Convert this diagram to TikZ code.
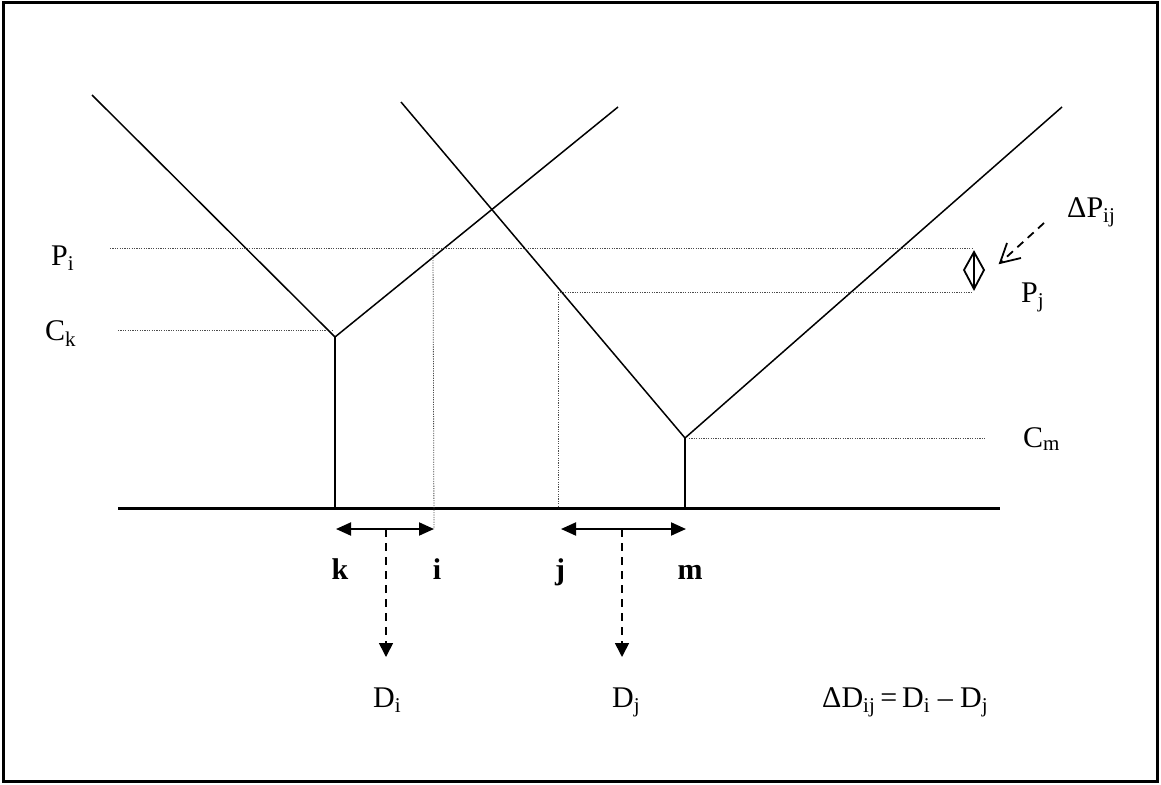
\documentclass[tikz,border=0pt]{standalone}
\usepackage{fontspec}
\setmainfont{Liberation Serif}
\usetikzlibrary{arrows.meta}
\begin{document}
\begin{tikzpicture}[x=1pt,y=-1pt,
  curve/.style={line width=1.5pt},
  guide/.style={line width=0.8pt, dash pattern=on 1.2pt off 1.2pt, gray!60!black},
  lbl/.style={inner sep=0pt, font=\fontsize{30}{34}\selectfont},
  blbl/.style={inner sep=0pt, font=\fontsize{30}{34}\selectfont\bfseries},
  span/.style={line width=2pt, {Triangle[length=15pt,width=13pt]}-{Triangle[length=15pt,width=13pt]}},
  drop/.style={line width=1.6pt, dash pattern=on 8pt off 6pt, -{Triangle[length=14pt,width=14pt]}},
]
\useasboundingbox (0,0) rectangle (1161,784);
\draw[line width=3pt] (3,2.5) rectangle (1157,781);
% left V
\coordinate (a1) at (92,95);
\coordinate (kv) at (335,337);
\coordinate (a2) at (618,107);
\coordinate (kb) at (335,508);
% right V
\coordinate (b1) at (401,102);
\coordinate (mv) at (685,438);
\coordinate (b2) at (1062,107);
\coordinate (mb) at (685,508);
% baseline
\coordinate (bl) at (118,508);
\coordinate (br) at (1000,508);
% guides
\coordinate (pil) at (110,248);
\coordinate (pir) at (972,248);
\coordinate (pix) at (433,248);
\coordinate (pjl) at (558,292);
\coordinate (pjr) at (972,292);
\coordinate (pjb) at (558,508);
\coordinate (ckl) at (118,330);
\coordinate (ckr) at (332,330);
\coordinate (cml) at (689,438);
\coordinate (cmr) at (986,438);
% spans
\coordinate (sk) at (336,529);
\coordinate (si) at (434,529);
\coordinate (sj) at (561,529);
\coordinate (sm) at (686,529);
\coordinate (d1t) at (386,529);
\coordinate (d1b) at (386,657);
\coordinate (d2t) at (622,529);
\coordinate (d2b) at (622,657);
% delta P arrow
\coordinate (dpa) at (1044,223);
\coordinate (dpb) at (1000,263);
\coordinate (arm1) at (1007,243);
\coordinate (arm2) at (1021,258);

\draw[curve] (a1) -- (kv) -- (a2);
\draw[curve] (kv) -- (kb);
\draw[curve] (b1) -- (mv) -- (b2);
\draw[curve] (mv) -- (mb);
\draw[line width=3pt] (bl) -- (br);

\draw[guide] (pil) -- (pir);
\draw[guide] (pix) -- (si);
\draw[guide] (pjl) -- (pjr);
\draw[guide] (pjl) -- (pjb);
\draw[guide] (ckl) -- (ckr);
\draw[guide] (cml) -- (cmr);

% diamond
\coordinate (dt) at (974,252);
\coordinate (dr) at (984,270);
\coordinate (db) at (974,289);
\coordinate (dl) at (964,270);
\draw[line width=1.8pt, line join=miter] (dt) -- (dr) -- (db) -- (dl) -- cycle;
\draw[line width=1.8pt] (dt) -- (db);

\draw[line width=1.8pt, dash pattern=on 8pt off 6pt] (dpa) -- (dpb);
\draw[line width=1.8pt, line join=miter] (arm1) -- (dpb) -- (arm2);

\draw[span] (sk) -- (si);
\draw[span] (sj) -- (sm);
\draw[drop] (d1t) -- (d1b);
\draw[drop] (d2t) -- (d2b);

% labels
\node[lbl, anchor=base west] (Pi) at (51,265) {P\textsubscript{i}};
\node[lbl, anchor=base west] (Ck) at (45,340) {C\textsubscript{k}};
\node[lbl, anchor=base west] (Cm) at (1023,447) {C\textsubscript{m}};
\node[lbl, anchor=base west] (Pj) at (1021,302) {P\textsubscript{j}};
\node[lbl, anchor=base west] (dP) at (1067,217) {ΔP\textsubscript{ij}};
\node[blbl, anchor=base] (k) at (340,579) {k};
\node[blbl, anchor=base] (i) at (437,579) {i};
\node[blbl, anchor=base] (j) at (560,579) {j};
\node[blbl, anchor=base] (m) at (690,579) {m};
\node[lbl, anchor=base west] (Di) at (373,707) {D\textsubscript{i}};
\node[lbl, anchor=base west] (Dj) at (612,707) {D\textsubscript{j}};
\node[lbl, anchor=base west] (dD) at (822,707) {ΔD\textsubscript{ij}\,=\,D\textsubscript{i}\ –\ D\textsubscript{j}};
\end{tikzpicture}
\end{document}
